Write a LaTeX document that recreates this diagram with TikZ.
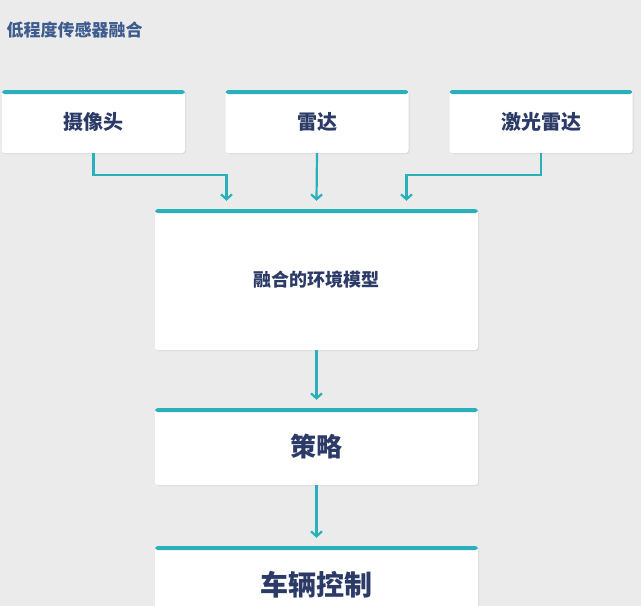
\documentclass[tikz,border=0pt]{standalone}
\usepackage{fontspec}
\setmainfont{Noto Sans CJK SC}
\usetikzlibrary{positioning,shadows,arrows.meta}
\definecolor{bgcol}{HTML}{EBEBEB}
\definecolor{tealbar}{HTML}{2AB0B8}
\definecolor{navy}{HTML}{2B3A67}
\definecolor{subblue}{HTML}{3E5C8E}
\begin{document}
\begin{tikzpicture}[x=1pt, y=-1pt,
    sensor/.style={rectangle, fill=white, rounded corners=1mm, minimum width=183pt,
        minimum height=63pt, text=navy, font=\bfseries\fontsize{20}{20}\selectfont,
        drop shadow={opacity=0.15, shadow xshift=1pt, shadow yshift=-1pt},
        path picture={\fill[tealbar] (path picture bounding box.north west)
            rectangle ([yshift=-4pt]path picture bounding box.north east);}},
    stage/.style={sensor, minimum width=323pt},
    flow/.style={draw=tealbar, line width=2.2pt, -{Straight Barb[length=5pt,width=11pt]}}
]
\useasboundingbox (0,0) rectangle (641,606);
\fill[bgcol] (0,0) rectangle (641,606);
\clip (0,0) rectangle (641,606);

\node[anchor=west, text=subblue, font=\bfseries\fontsize{17}{17}\selectfont] (Subtitle) at (3,30) {低程度传感器融合};

% sensors
\node (Camera) [sensor] at (93.5,121.5) {摄像头};
\node (Radar) [sensor] at (317,121.5) {雷达};
\node (Lidar) [sensor] at (541,121.5) {激光雷达};

% pipeline
\node (Fusion) [stage, minimum height=141pt, font=\bfseries\fontsize{18}{18}\selectfont] at (316.5,279.5) {融合的环境模型};
\node (Policy) [stage, minimum height=77pt, font=\bfseries\fontsize{26}{26}\selectfont] at (316.5,446.5) {策略};
\node (Control) [stage, minimum height=77pt, font=\bfseries\fontsize{28}{28}\selectfont] at (316.5,584.5) {车辆控制};

\coordinate (CamTurn) at (Camera.south |- 0,175);
\coordinate (LidTurn) at (Lidar.south |- 0,175);
\draw[flow] (Camera.south) -- (CamTurn) -- ([xshift=-90pt]Fusion.north |- CamTurn) -- ([xshift=-90pt,yshift=8pt]Fusion.north);
\draw[flow] (Radar.south) -- ([yshift=8pt]Fusion.north);
\draw[flow] (Lidar.south) -- (LidTurn) -- ([xshift=90pt]Fusion.north |- LidTurn) -- ([xshift=90pt,yshift=8pt]Fusion.north);
\draw[flow] (Fusion.south) -- ([yshift=8pt]Policy.north);
\draw[flow] (Policy.south) -- ([yshift=8pt]Control.north);
\end{tikzpicture}
\end{document}
